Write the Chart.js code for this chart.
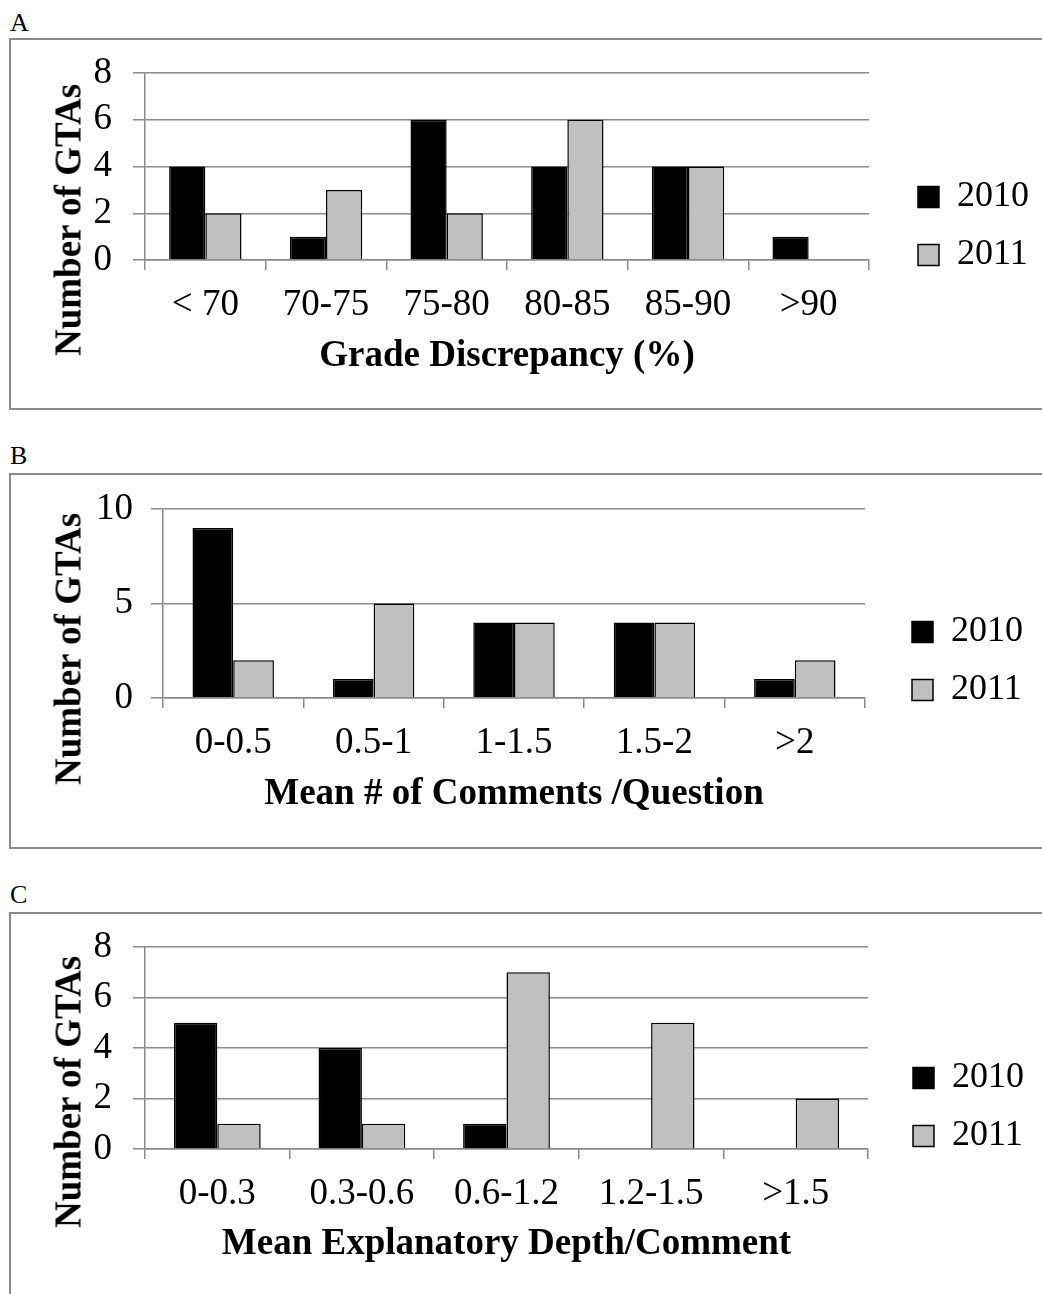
<!DOCTYPE html>
<html>
<head>
<meta charset="utf-8">
<script src="https://cdn.jsdelivr.net/npm/chart.js@4.4.1/dist/chart.umd.min.js"></script>
<style>
  body { margin: 0; width: 1042px; height: 1294px; overflow: hidden; background: #fff; position: relative;
         font-family: 'Liberation Serif', 'Times New Roman', serif; color: #000; }
  .letter { position: absolute; left: 10px; font-size: 26px; line-height: 26px; }
  .box { position: absolute; left: 9px; width: 1100px; border: 2px solid #8a8a8a; box-sizing: border-box; }
  canvas { position: absolute; left: 10px; }
  .ytitle { position: absolute; left: 68px; font-size: 37px; font-weight: bold; white-space: nowrap;
            transform: translate(-50%, -50%) rotate(-90deg); }
</style>
</head>
<body>
<div class="letter" style="top:10px">A</div>
<div class="box" style="top:38px;height:372px"></div>
<canvas id="chartA" width="1032" height="350" style="top:29px"></canvas>
<div class="ytitle" style="top:220px">Number of GTAs</div>

<div class="letter" style="top:443px">B</div>
<div class="box" style="top:473px;height:376px"></div>
<canvas id="chartB" width="1032" height="348" style="top:465px"></canvas>
<div class="ytitle" style="top:649px">Number of GTAs</div>

<div class="letter" style="top:882px">C</div>
<div class="box" style="top:912px;height:500px"></div>
<canvas id="chartC" width="1032" height="364" style="top:903px"></canvas>
<div class="ytitle" style="top:1092px">Number of GTAs</div>

<script>
const FONT = "'Liberation Serif', 'Times New Roman', serif";
const GRID = '#8a8a8a';

// A - grade discrepancy
const gradeBins = ['< 70', '70-75', '75-80', '80-85', '85-90', '>90'];
const grade2010 = [4, 1, 6, 4, 4, 1];
const grade2011 = [2, 3, 2, 6, 4, 0];
const gradeTicks = [0, 2, 4, 6, 8];

// B - comments per question
const commentBins = ['0-0.5', '0.5-1', '1-1.5', '1.5-2', '>2'];
const comment2010 = [9, 1, 4, 4, 1];
const comment2011 = [2, 5, 4, 4, 2];
const commentTicks = [0, 5, 10];

// C - explanatory depth per comment
const depthBins = ['0-0.3', '0.3-0.6', '0.6-1.2', '1.2-1.5', '>1.5'];
const depth2010 = [5, 4, 1, 0, 0];
const depth2011 = [1, 1, 7, 5, 2];
const depthTicks = [0, 2, 4, 6, 8];

function drawPanel(id, bins, s2010, s2011, yTicks, xTitle, g) {
  new Chart(document.getElementById(id), {
    type: 'bar',
    data: {
      labels: bins,
      datasets: [
        { label: '2010', data: s2010, backgroundColor: '#000', borderColor: '#000', borderWidth: 1.5,
          categoryPercentage: g.cat, barPercentage: 1 },
        { label: '2011', data: s2011, backgroundColor: '#c0c0c0', borderColor: '#000', borderWidth: 1.5,
          categoryPercentage: g.cat, barPercentage: 1 }
      ]
    },
    options: {
      responsive: false,
      animation: false,
      layout: { padding: { top: 44, right: g.padRight, bottom: 0, left: 0 } },
      scales: {
        x: {
          grid: { drawOnChartArea: false, tickLength: 10, color: GRID, lineWidth: 1.5 },
          border: { color: GRID, width: 1.5 },
          ticks: { font: { family: FONT, size: 37 }, color: '#000', padding: g.xTickPad, maxRotation: 0, autoSkip: false },
          title: { display: true, text: xTitle, color: '#000', font: { family: FONT, size: 37, weight: 'bold' },
                   padding: { top: 0, bottom: g.titlePad } },
          afterFit: s => { s.height = g.xHeight; }
        },
        y: {
          min: yTicks[0],
          max: yTicks[yTicks.length - 1],
          afterBuildTicks: s => { s.ticks = yTicks.map(v => ({ value: v })); },
          ticks: { font: { family: FONT, size: 37 }, color: '#000', padding: g.yTickPad, autoSkip: false },
          grid: { color: GRID, lineWidth: 1.5, tickLength: 12 },
          border: { color: GRID, width: 1.5 },
          afterFit: s => { s.width = g.yWidth; }
        },
        // empty strip between plot and legend
        gap: {
          position: 'right',
          ticks: { display: false },
          grid: { display: false },
          border: { display: false },
          afterFit: s => { s.width = g.gap; }
        }
      },
      plugins: {
        legend: {
          position: 'right',
          labels: { font: { family: FONT, size: 36 }, color: '#000', boxWidth: 21, boxHeight: 21, padding: 22 }
        },
        tooltip: { enabled: false }
      }
    }
  });
}

drawPanel('chartA', gradeBins, grade2010, grade2011, gradeTicks, 'Grade Discrepancy (%)',
  { cat: 0.6, padRight: 3, gap: 27, yWidth: 135, xHeight: 119, xTickPad: 13, yTickPad: 21, titlePad: 0 });
drawPanel('chartB', commentBins, comment2010, comment2011, commentTicks, 'Mean # of Comments /Question',
  { cat: 0.58, padRight: 9, gap: 25, yWidth: 153, xHeight: 115, xTickPad: 13, yTickPad: 18, titlePad: -4 });
drawPanel('chartC', depthBins, depth2010, depth2011, depthTicks, 'Mean Explanatory Depth/Comment',
  { cat: 0.6, padRight: 8, gap: 23, yWidth: 135, xHeight: 118, xTickPad: 13, yTickPad: 21, titlePad: 0 });
</script>
</body>
</html>
